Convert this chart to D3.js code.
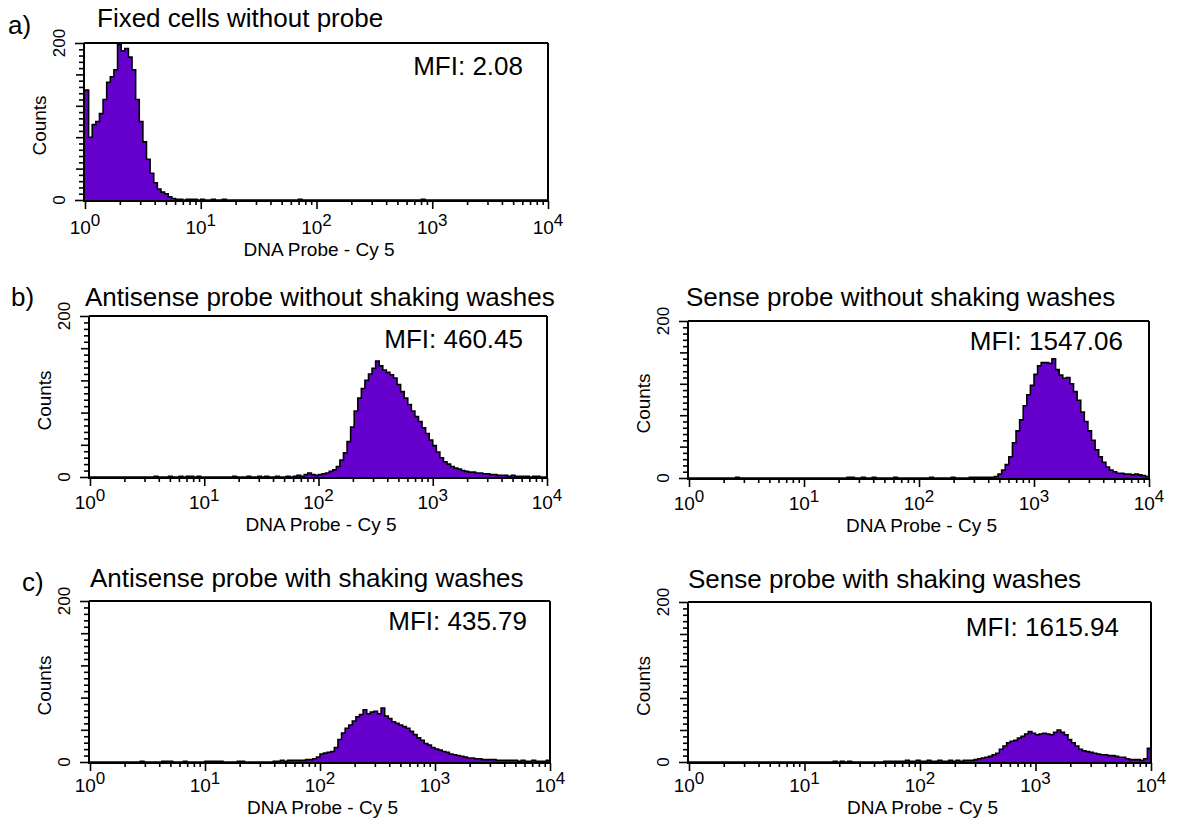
<!DOCTYPE html>
<html>
<head>
<meta charset="utf-8">
<script src="https://cdn.jsdelivr.net/npm/d3@7"></script>
<style>
body { margin: 0; background: #fff; }
svg text { font-family: "Liberation Sans", Arial, sans-serif; fill: #000; }
</style>
</head>
<body>
<div id="chart"></div>
<script>
// channel counts, 32 log bins per decade, 10^0 .. 10^4
const binsPerDecade = 32;
const decades = [0, 1, 2, 3, 4];
const yMax = 200;
const yTickLabels = [0, 200];
const panelLetters = ['a)', 'b)', 'c)'];
const panelTitles = [
    'Fixed cells without probe',
    'Antisense probe without shaking washes',
    'Sense probe without shaking washes',
    'Antisense probe with shaking washes',
    'Sense probe with shaking washes'
];
const mfiLabels = ['MFI: 2.08', 'MFI: 460.45', 'MFI: 1547.06', 'MFI: 435.79', 'MFI: 1615.94'];
const xAxisLabel = 'DNA Probe - Cy 5';
const yAxisLabel = 'Counts';

const countsFixed = [
    140, 80, 96, 100, 110, 128, 150, 157, 166, 198, 190, 193, 182, 166, 128, 100,
    74, 52, 34, 22, 14, 10, 8, 4, 2, 1, 1, 0, 1, 1, 1, 0,
    1, 0, 0, 1, 0, 0, 1, 0, 0, 0, 0, 0, 0, 0, 0, 0,
    0, 0, 0, 0, 0, 0, 0, 0, 0, 0, 0, 1, 0, 0, 0, 0,
    0, 0, 0, 0, 0, 0, 0, 0, 0, 0, 0, 0, 0, 0, 0, 0,
    0, 0, 0, 0, 0, 0, 0, 0, 0, 0, 0, 0, 0, 1, 0, 0,
    0, 0, 0, 0, 0, 0, 0, 0, 0, 0, 0, 0, 0, 0, 0, 0,
    0, 0, 0, 0, 0, 0, 0, 0, 0, 0, 0, 0, 0, 0, 0, 0
];
const countsAntiNoShake = [
    0, 0, 0, 0, 0, 0, 0, 0, 0, 0, 0, 0, 0, 0, 0, 0,
    0, 0, 1, 0, 0, 0, 1, 0, 0, 1, 0, 1, 1, 0, 1, 0,
    0, 0, 0, 0, 0, 0, 0, 0, 1, 0, 0, 0, 1, 0, 0, 1,
    0, 1, 0, 0, 1, 0, 0, 1, 0, 1, 2, 1, 3, 5, 3, 2,
    3, 4, 5, 7, 9, 13, 21, 30, 44, 62, 82, 98, 110, 120, 128, 135,
    144, 138, 133, 130, 127, 123, 115, 106, 98, 90, 82, 75, 69, 61, 54, 46,
    39, 31, 24, 19, 16, 13, 11, 10, 8, 7, 6, 6, 5, 5, 4, 4,
    3, 3, 2, 2, 2, 1, 2, 1, 1, 1, 1, 0, 1, 1, 0, 0
];
const countsSenseNoShake = [
    0, 0, 0, 0, 0, 0, 0, 0, 0, 0, 0, 0, 0, 1, 0, 0,
    0, 0, 0, 0, 0, 0, 0, 0, 0, 0, 0, 0, 0, 0, 0, 0,
    0, 0, 0, 0, 0, 0, 0, 0, 0, 0, 0, 0, 1, 1, 0, 0,
    1, 0, 0, 1, 0, 0, 0, 0, 0, 1, 0, 0, 0, 0, 0, 0,
    0, 0, 0, 1, 0, 0, 0, 0, 0, 1, 0, 0, 0, 0, 1, 1,
    1, 1, 1, 1, 1, 2, 5, 10, 17, 27, 45, 60, 74, 92, 106, 118,
    132, 143, 147, 147, 146, 152, 138, 131, 127, 128, 120, 110, 99, 84, 72, 60,
    48, 36, 27, 20, 14, 10, 8, 6, 6, 5, 5, 4, 5, 4, 3, 2
];
const countsAntiShake = [
    0, 0, 0, 0, 0, 0, 0, 0, 0, 0, 0, 0, 0, 0, 1, 0,
    0, 0, 0, 0, 1, 1, 1, 0, 0, 0, 1, 0, 0, 0, 0, 0,
    1, 1, 1, 1, 1, 0, 0, 0, 0, 1, 1, 0, 0, 0, 0, 0,
    0, 0, 0, 1, 1, 2, 1, 2, 2, 2, 2, 2, 3, 3, 4, 6,
    10, 11, 12, 13, 18, 28, 36, 42, 46, 51, 56, 59, 65, 60, 62, 63,
    60, 67, 57, 54, 50, 48, 46, 44, 42, 38, 34, 30, 27, 23, 21, 18,
    16, 15, 13, 12, 10, 9, 8, 7, 6, 5, 5, 4, 4, 3, 3, 3,
    3, 2, 2, 2, 2, 2, 2, 1, 2, 1, 1, 2, 1, 1, 1, 2
];
const countsSenseShake = [
    0, 0, 0, 0, 0, 0, 0, 0, 0, 0, 0, 0, 0, 0, 0, 0,
    0, 0, 0, 0, 0, 0, 0, 0, 0, 0, 0, 0, 0, 0, 0, 0,
    0, 0, 0, 0, 0, 0, 0, 0, 1, 0, 1, 0, 1, 0, 0, 0,
    0, 0, 0, 0, 0, 0, 1, 1, 1, 1, 1, 1, 2, 1, 1, 2,
    1, 1, 2, 1, 1, 2, 1, 1, 2, 1, 2, 1, 2, 2, 2, 3,
    4, 5, 6, 7, 9, 11, 16, 20, 24, 26, 27, 30, 32, 35, 38, 36,
    34, 35, 36, 35, 34, 37, 40, 37, 34, 28, 24, 20, 16, 14, 13, 12,
    11, 10, 9, 9, 8, 8, 7, 6, 6, 4, 3, 3, 3, 2, 4, 17
];
const allCounts = [countsFixed, countsAntiNoShake, countsSenseNoShake, countsAntiShake, countsSenseShake];

// plot boxes: L/R = frame sides, T = top (200 counts), B = zero line
const layout = [
    { L: 84, R: 548, T: 43, B: 200, titleX: 97, titleY: 27, mfiX: 523, mfiY: 75, tickDy: 34, labelDy: 56 },
    { L: 89, R: 547, T: 316, B: 477, titleX: 85, titleY: 306, mfiX: 523, mfiY: 348, tickDy: 32, labelDy: 54 },
    { L: 688, R: 1149, T: 321, B: 478, titleX: 686, titleY: 306, mfiX: 1123, mfiY: 350, tickDy: 32, labelDy: 54 },
    { L: 89, R: 550, T: 601, B: 762, titleX: 90, titleY: 587, mfiX: 527, mfiY: 630, tickDy: 30, labelDy: 52 },
    { L: 688, R: 1151, T: 602, B: 762, titleX: 688, titleY: 588, mfiX: 1119, mfiY: 636, tickDy: 30, labelDy: 52 }
];
const letterPos = [{ x: 8, y: 34 }, { x: 11, y: 306 }, { x: 22, y: 591 }];

const width = 1177;
const height = 822;

const svg = d3.select('#chart')
    .append('svg')
    .attr('width', width)
    .attr('height', height);

svg.selectAll('.letter')
    .data(panelLetters)
    .join('text')
    .attr('class', 'letter')
    .attr('x', (d, i) => letterPos[i].x)
    .attr('y', (d, i) => letterPos[i].y)
    .style('font-size', '26px')
    .text(d => d);

layout.forEach((p, i) => drawHistogram(p, allCounts[i], panelTitles[i], mfiLabels[i]));

function drawHistogram(p, counts, title, mfi)
{
    const g = svg.append('g');

    const x = d3.scaleLog()
        .domain([1, 1e4])
        .range([p.L + 1, p.R]);

    const y = d3.scaleLinear()
        .domain([0, yMax])
        .range([p.B, p.T]);

    const bins = counts.map((c, i) => ({ lo: Math.pow(10, i / binsPerDecade), c: c }));
    bins.push({ lo: 1e4, c: counts[counts.length - 1] });

    const area = d3.area()
        .curve(d3.curveStepAfter)
        .x(d => x(d.lo))
        .y0(y(0))
        .y1(d => y(d.c));

    const line = d3.line()
        .curve(d3.curveStepAfter)
        .x(d => x(d.lo))
        .y(d => y(d.c));

    g.append('path')
        .datum(bins)
        .attr('fill', '#6600cc')
        .attr('d', area);

    g.append('path')
        .datum(bins)
        .attr('fill', 'none')
        .attr('stroke', '#000')
        .attr('stroke-width', 1.6)
        .attr('d', line);

    // frame
    const frame = [
        [p.L, p.T, p.L, p.B + 2],
        [p.L, p.T, p.R, p.T],
        [p.R, p.T, p.R, p.B + 2],
        [p.L, p.B + 1, p.R, p.B + 1]
    ];
    g.selectAll('.frame')
        .data(frame)
        .join('line')
        .attr('x1', d => d[0]).attr('y1', d => d[1])
        .attr('x2', d => d[2]).attr('y2', d => d[3])
        .attr('stroke', '#000')
        .attr('stroke-width', 2);

    // x axis ticks
    const majors = decades.map(k => Math.pow(10, k));
    const minors = [];
    for (let k = 0; k < 4; k++)
        for (let m = 2; m < 10; m++) minors.push(m * Math.pow(10, k));

    const xMajor = g.append('g')
        .attr('transform', `translate(0, ${p.B + 1})`)
        .call(d3.axisBottom(x).tickValues(majors).tickSize(8).tickFormat(''));
    const xMinor = g.append('g')
        .attr('transform', `translate(0, ${p.B + 1})`)
        .call(d3.axisBottom(x).tickValues(minors).tickSize(4).tickFormat(''));

    // y axis ticks
    const yMinorVals = d3.range(8, yMax, 8).filter(v => v % 40 !== 0);
    const yMajor = g.append('g')
        .attr('transform', `translate(${p.L}, 0)`)
        .call(d3.axisLeft(y).tickValues(yTickLabels).tickSize(9).tickFormat(''));
    const yMid = g.append('g')
        .attr('transform', `translate(${p.L}, 0)`)
        .call(d3.axisLeft(y).tickValues([40, 80, 120, 160]).tickSize(8).tickFormat(''));
    const yMinor = g.append('g')
        .attr('transform', `translate(${p.L}, 0)`)
        .call(d3.axisLeft(y).tickValues(yMinorVals).tickSize(5).tickFormat(''));

    [xMajor, xMinor, yMajor, yMid, yMinor].forEach(a => {
        a.select('.domain').remove();
        a.selectAll('line').attr('stroke', '#000').attr('stroke-width', 1.6);
    });

    // decade labels 10^k
    g.selectAll('.xlab')
        .data(decades)
        .join('text')
        .attr('class', 'xlab')
        .attr('x', d => x(Math.pow(10, d)))
        .attr('y', p.B + p.tickDy)
        .attr('text-anchor', 'middle')
        .style('font-size', '19px')
        .each(function(d) {
            const t = d3.select(this);
            t.append('tspan').text('10');
            t.append('tspan').attr('dy', -8).style('font-size', '17px').text(d);
        });

    g.selectAll('.ylab')
        .data(yTickLabels)
        .join('text')
        .attr('class', 'ylab')
        .attr('transform', d => `translate(${p.L - 19}, ${y(d)}) rotate(-90)`)
        .attr('text-anchor', 'middle')
        .style('font-size', '17px')
        .text(d => d);

    g.append('text')
        .attr('transform', `translate(${p.L - 38}, ${(p.T + p.B) / 2 + 4}) rotate(-90)`)
        .attr('text-anchor', 'middle')
        .style('font-size', '19px')
        .text(yAxisLabel);

    g.append('text')
        .attr('x', (p.L + p.R) / 2 + 3)
        .attr('y', p.B + p.labelDy)
        .attr('text-anchor', 'middle')
        .style('font-size', '19px')
        .text(xAxisLabel);

    g.append('text')
        .attr('x', p.titleX)
        .attr('y', p.titleY)
        .style('font-size', '26px')
        .text(title);

    g.append('text')
        .attr('x', p.mfiX)
        .attr('y', p.mfiY)
        .attr('text-anchor', 'end')
        .style('font-size', '26px')
        .text(mfi);
}
</script>
</body>
</html>
